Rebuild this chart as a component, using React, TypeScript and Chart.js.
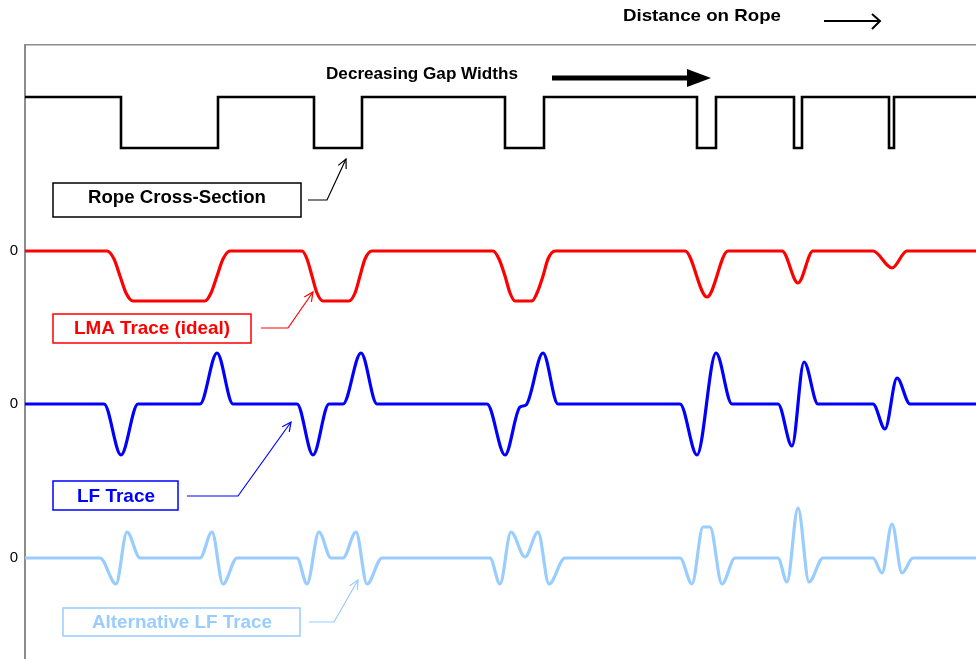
import React, { useEffect, useRef } from 'react';
import { Chart, registerables } from 'chart.js';

Chart.register(...registerables);

// Distance along the rope (x) and signal level relative to each trace's own zero (y)
const ROPE_X = [25, 121, 121, 218, 218, 314, 314, 362, 362, 505, 505, 544, 544, 697, 697, 716, 716, 794, 794, 802, 802, 889, 889, 894, 894, 976];
const ROPE_Y = [0, 0, -51, -51, 0, 0, -51, -51, 0, 0, -51, -51, 0, 0, -51, -51, 0, 0, -51, -51, 0, 0, -51, -51, 0, 0];

const LMA_X = [25, 107, 114, 120, 126, 133, 205, 211, 217, 223, 230, 302, 307, 312, 317, 323, 349, 355, 360, 365, 372, 493, 499, 505, 510, 515, 532, 537, 543, 548, 555, 685, 707, 728, 782, 798, 813, 873, 892, 907, 976];
const LMA_Y = [0, 0, -8, -25, -42, -50, -50, -42, -25, -8, 0, 0, -8, -25, -42, -50, -50, -42, -25, -8, 0, 0, -8, -25, -42, -50, -50, -42, -25, -8, 0, 0, -46, 0, 0, -32, 0, 0, -17, 0, 0];

const LF_X = [25, 104, 121, 138, 200, 217, 233, 297, 313, 329, 343, 361, 377, 487, 505, 520, 526, 543, 558, 680, 697, 716, 732, 778, 792, 804, 818, 873, 885, 897, 910, 976];
const LF_Y = [0, 0, -51, 0, 0, 51, 0, 0, -51, 0, 0, 51, 0, 0, -51, -3, -1, 51, 0, 0, -51, 51, 0, 0, -42, 42, 0, 0, -25, 26, 0, 0];

const ALT_X = [25, 100, 116, 127, 140, 200, 212, 223, 237, 297, 307, 319, 331, 343, 356, 367, 382, 490, 500, 511, 525, 538, 549, 565, 680, 692, 703, 710, 722, 735, 778, 787, 798, 809, 823, 873, 882, 892, 902, 913, 976];
const ALT_Y = [0, 0, -26, 26, 0, 0, 26, -26, 0, 0, -26, 26, 0, 0, 26, -26, 0, 0, -26, 26, 1, 26, -26, 0, 0, -26, 31, 31, -26, 0, 0, -24, 50, -24, 0, 0, -15, 34, -15, 0, 0];

// Vertical placement of each trace's zero level on the shared value axis
const ROPE_ZERO = 562;
const LMA_ZERO = 408;
const LF_ZERO = 255;
const ALT_ZERO = 101;
const ZERO_TICKS = [ALT_ZERO, LF_ZERO, LMA_ZERO];
const TICK_LABEL = '0';

const X_MIN = 25;
const X_MAX = 976;
const Y_MIN = 0;
const Y_MAX = 614;

const FONT = '"Liberation Sans", Arial, Helvetica, sans-serif';

type Pt = [number, number];
interface BoxLabel {
  text: string;
  color: string;
  box: [number, number, number, number]; // x1, yTop, x2, yBottom (data units)
  center: Pt;
  width: number;
  pointer: Pt[];
}

const BOX_LABELS: BoxLabel[] = [
  { text: 'Rope Cross-Section', color: '#000000', box: [53, 476, 301, 442], center: [177, 461], width: 178, pointer: [[308, 459], [327, 459], [346, 500]] },
  { text: 'LMA Trace (ideal)', color: '#ff0000', box: [53, 345, 251, 316], center: [152, 330], width: 156, pointer: [[261, 331], [288, 331], [313, 367]] },
  { text: 'LF Trace', color: '#0000ff', box: [53, 178, 178, 149], center: [116, 162], width: 78, pointer: [[187, 163], [238, 163], [291, 237]] },
  { text: 'Alternative LF Trace', color: '#99ccff', box: [63, 51, 300, 23], center: [182, 36], width: 180, pointer: [[309, 37], [334, 37], [358, 79]] },
];

const pairs = (xs: number[], ys: number[], zero: number) => xs.map((x, i) => ({ x, y: ys[i] + zero }));

function drawFitText(ctx: CanvasRenderingContext2D, text: string, cx: number, cy: number, size: number, targetWidth: number) {
  ctx.font = `bold ${size}px ${FONT}`;
  const w = ctx.measureText(text).width;
  const sx = w > 0 ? targetWidth / w : 1;
  ctx.save();
  ctx.translate(cx, cy);
  ctx.scale(sx, 1);
  ctx.textAlign = 'center';
  ctx.textBaseline = 'middle';
  ctx.fillText(text, 0, 0);
  ctx.restore();
}

const annotationPlugin = {
  id: 'ropeAnnotations',
  afterDraw(chart: any) {
    const { ctx } = chart;
    const xs = chart.scales.x;
    const ys = chart.scales.y;
    const px = (v: number) => xs.getPixelForValue(v);
    const py = (v: number) => ys.getPixelForValue(v);

    ctx.save();

    // Top caption
    ctx.fillStyle = '#000';
    drawFitText(ctx, 'Distance on Rope', px(702), py(643), 17, 158);
    ctx.strokeStyle = '#000';
    ctx.lineWidth = 2;
    ctx.beginPath();
    ctx.moveTo(px(824), py(638));
    ctx.lineTo(px(880), py(638));
    ctx.moveTo(px(872), py(645));
    ctx.lineTo(px(880), py(638));
    ctx.lineTo(px(872), py(630));
    ctx.stroke();

    // Decreasing Gap Widths
    drawFitText(ctx, 'Decreasing Gap Widths', px(422), py(584), 16, 192);
    ctx.lineWidth = 5;
    ctx.beginPath();
    ctx.moveTo(px(552), py(581));
    ctx.lineTo(px(690), py(581));
    ctx.stroke();
    ctx.beginPath();
    ctx.moveTo(px(687), py(590));
    ctx.lineTo(px(711), py(581));
    ctx.lineTo(px(687), py(572));
    ctx.closePath();
    ctx.fill();

    // Boxed labels with pointers
    for (const b of BOX_LABELS) {
      const x1 = px(b.box[0]);
      const y1 = py(b.box[1]);
      const x2 = px(b.box[2]);
      const y2 = py(b.box[3]);
      ctx.fillStyle = '#ffffff';
      ctx.fillRect(x1, y1, x2 - x1, y2 - y1);
      ctx.strokeStyle = b.color;
      ctx.lineWidth = 1.5;
      ctx.strokeRect(x1, y1, x2 - x1, y2 - y1);
      ctx.fillStyle = b.color;
      drawFitText(ctx, b.text, px(b.center[0]), py(b.center[1]), 19, b.width);

      ctx.lineWidth = 1.2;
      ctx.beginPath();
      b.pointer.forEach((p, i) => {
        if (i === 0) ctx.moveTo(px(p[0]), py(p[1]));
        else ctx.lineTo(px(p[0]), py(p[1]));
      });
      ctx.stroke();
      const n = b.pointer.length;
      const tip = b.pointer[n - 1];
      const prev = b.pointer[n - 2];
      const tx = px(tip[0]);
      const ty = py(tip[1]);
      const ang = Math.atan2(ty - py(prev[1]), tx - px(prev[0]));
      const len = 10;
      const spread = 0.45;
      ctx.beginPath();
      ctx.moveTo(tx - len * Math.cos(ang - spread), ty - len * Math.sin(ang - spread));
      ctx.lineTo(tx, ty);
      ctx.lineTo(tx - len * Math.cos(ang + spread), ty - len * Math.sin(ang + spread));
      ctx.stroke();
    }
    ctx.restore();
  },
};

export default function App() {
  const ref = useRef<HTMLCanvasElement>(null);

  useEffect(() => {
    document.body.style.margin = '0';
    const smooth = {
      pointRadius: 0,
      borderWidth: 3.2,
      cubicInterpolationMode: 'monotone' as const,
      fill: false,
    };
    const chart = new Chart(ref.current as HTMLCanvasElement, {
      type: 'line',
      data: {
        datasets: [
          {
            label: 'Rope Cross-Section',
            data: pairs(ROPE_X, ROPE_Y, ROPE_ZERO),
            borderColor: '#000000',
            borderWidth: 2.6,
            pointRadius: 0,
            tension: 0,
            borderJoinStyle: 'miter',
            fill: false,
          },
          { label: 'LMA Trace (ideal)', data: pairs(LMA_X, LMA_Y, LMA_ZERO), borderColor: '#ff0000', ...smooth },
          { label: 'LF Trace', data: pairs(LF_X, LF_Y, LF_ZERO), borderColor: '#0000ff', ...smooth },
          { label: 'Alternative LF Trace', data: pairs(ALT_X, ALT_Y, ALT_ZERO), borderColor: '#99ccff', ...smooth },
        ],
      },
      options: {
        responsive: false,
        animation: false,
        events: [],
        layout: { padding: { top: 45, left: 0, right: 0, bottom: 0 } },
        plugins: { legend: { display: false }, tooltip: { enabled: false }, title: { display: false } },
        scales: {
          x: {
            type: 'linear',
            position: 'top',
            min: X_MIN,
            max: X_MAX,
            grid: { display: false, drawTicks: false },
            ticks: { display: false },
            border: { display: true, color: '#8c8c8c', width: 1.5 },
            afterFit: (s: any) => {
              s.height = 0;
              s.paddingLeft = 0;
              s.paddingRight = 0;
            },
          },
          y: {
            type: 'linear',
            position: 'left',
            min: Y_MIN,
            max: Y_MAX,
            grid: { display: false, drawTicks: false },
            border: { display: true, color: '#8c8c8c', width: 2 },
            afterBuildTicks: (s: any) => {
              s.ticks = ZERO_TICKS.map((v) => ({ value: v }));
            },
            ticks: {
              padding: 7,
              color: '#000',
              font: { family: FONT, size: 15 },
              callback: () => TICK_LABEL,
            },
            afterFit: (s: any) => {
              s.width = 25;
              s.paddingTop = 0;
              s.paddingBottom = 0;
            },
          },
        },
      },
      plugins: [annotationPlugin],
    });
    return () => chart.destroy();
  }, []);

  return (
    <canvas
      ref={ref}
      width={976}
      height={659}
      style={{ display: 'block', position: 'absolute', left: 0, top: 0, width: 976, height: 659 }}
    />
  );
}
